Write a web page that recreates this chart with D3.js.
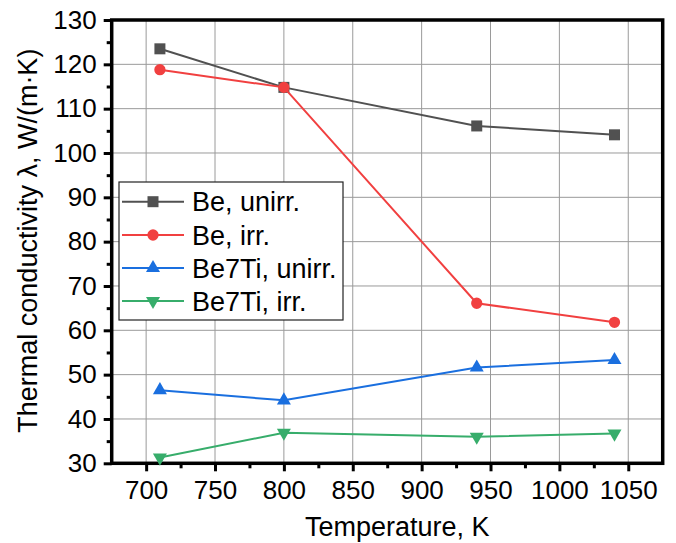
<!DOCTYPE html>
<html>
<head>
<meta charset="utf-8">
<script src="https://cdn.jsdelivr.net/npm/d3@7"></script>
<style>
  html, body { margin: 0; padding: 0; background: #fff; }
  svg { display: block; font-family: "Liberation Sans", Arial, sans-serif; }
</style>
</head>
<body>
<svg id="chart" width="676" height="543"></svg>
<script>
// ---- data ----
const temps = [710, 800, 940, 1040];
const beUnirr = [123.5, 114.8, 106.1, 104.1];
const beIrr = [118.8, 114.8, 66.1, 61.8];
const be7tiUnirr = [46.5, 44.2, 51.6, 53.3];
const be7tiIrr = [31.3, 36.9, 36.0, 36.7];
const seriesNames = ["Be, unirr.", "Be, irr.", "Be7Ti, unirr.", "Be7Ti, irr."];
const xTicks = [700, 750, 800, 850, 900, 950, 1000, 1050];
const yTicks = [30, 40, 50, 60, 70, 80, 90, 100, 110, 120, 130];
const xTitle = "Temperature, K";
const yTitle = "Thermal conductivity λ, W/(m·K)";

// ---- layout ----
const L = 111.7, R = 662.7, T = 20, B = 463.3;
const svg = d3.select("#chart");
const x = d3.scaleLinear().domain([675, 1075]).range([L, R]);
const y = d3.scaleLinear().domain([30, 130]).range([B, T]);

const colors = ["#515151", "#F14040", "#1A6FDF", "#37AD6B"];
const symbols = [
  {type: d3.symbolSquare, size: 121, rot: 0},
  {type: d3.symbolCircle, size: 100, rot: 0},
  {type: d3.symbolTriangle, size: 85, rot: 0},
  {type: d3.symbolTriangle, size: 85, rot: 180}
];
const series = [beUnirr, beIrr, be7tiUnirr, be7tiIrr];

// grid
const grid = svg.append("g");
grid.selectAll("line.gx").data(xTicks).join("line")
  .attr("x1", d => x(d)).attr("x2", d => x(d)).attr("y1", T).attr("y2", B)
  .attr("stroke", "#9a9a9a").attr("stroke-width", 1);
grid.selectAll("line.gy").data(yTicks).join("line")
  .attr("x1", L).attr("x2", R).attr("y1", d => y(d)).attr("y2", d => y(d))
  .attr("stroke", "#9a9a9a").attr("stroke-width", 1);

// axes
const xMinor = d3.range(725, 1075, 50);
const yMinor = d3.range(35, 130, 10);
const xAxis = svg.append("g").attr("transform", `translate(0,${B})`)
  .call(d3.axisBottom(x).tickValues(xTicks).tickSize(8).tickPadding(9).tickFormat(d3.format("d")));
const xAxisMinor = svg.append("g").attr("transform", `translate(0,${B})`)
  .call(d3.axisBottom(x).tickValues(xMinor).tickSize(5).tickFormat(""));
const yAxis = svg.append("g").attr("transform", `translate(${L},0)`)
  .call(d3.axisLeft(y).tickValues(yTicks).tickSize(8).tickPadding(7).tickFormat(d3.format("d")));
const yAxisMinor = svg.append("g").attr("transform", `translate(${L},0)`)
  .call(d3.axisLeft(y).tickValues(yMinor).tickSize(5).tickFormat(""));
[xAxis, xAxisMinor, yAxis, yAxisMinor].forEach(g => {
  g.select(".domain").remove();
  g.selectAll(".tick line").attr("stroke", "#000").attr("stroke-width", 3);
  g.selectAll(".tick text").attr("fill", "#000").attr("font-size", 26)
    .attr("font-family", "'Liberation Sans', Arial, sans-serif");
});

// frame
svg.append("rect").attr("x", L).attr("y", T).attr("width", R - L).attr("height", B - T)
  .attr("fill", "none").attr("stroke", "#000").attr("stroke-width", 3.5);

// series
const line = d3.line().x((d, i) => x(temps[i])).y(d => y(d));
series.forEach((vals, si) => {
  const g = svg.append("g");
  g.append("path").datum(vals).attr("d", line)
    .attr("fill", "none").attr("stroke", colors[si]).attr("stroke-width", 2);
  g.selectAll("path.m").data(vals).join("path")
    .attr("d", d3.symbol().type(symbols[si].type).size(symbols[si].size))
    .attr("transform", (d, i) => `translate(${x(temps[i])},${y(d)}) rotate(${symbols[si].rot})`)
    .attr("fill", colors[si]);
});

// legend
const lg = svg.append("g");
lg.append("rect").attr("x", 119).attr("y", 182).attr("width", 224).attr("height", 138)
  .attr("fill", "#fff").attr("stroke", "#222").attr("stroke-width", 1.2);
const rowY = [201.7, 235, 268, 301];
seriesNames.forEach((name, si) => {
  lg.append("line").attr("x1", 122).attr("x2", 184).attr("y1", rowY[si]).attr("y2", rowY[si])
    .attr("stroke", colors[si]).attr("stroke-width", 2);
  lg.append("path").attr("d", d3.symbol().type(symbols[si].type).size(symbols[si].size))
    .attr("transform", `translate(153,${rowY[si]}) rotate(${symbols[si].rot})`)
    .attr("fill", colors[si]);
  lg.append("text").attr("x", 192).attr("y", rowY[si] + 9.5).attr("font-size", 27)
    .attr("fill", "#000").text(name);
});

// titles
svg.append("text").attr("x", (L + R) / 2 + 10).attr("y", 536).attr("text-anchor", "middle")
  .attr("font-size", 27).attr("fill", "#000").text(xTitle);
svg.append("text").attr("transform", `translate(37,${(T + B) / 2 - 1}) rotate(-90)`)
  .attr("text-anchor", "middle").attr("font-size", 27).attr("fill", "#000").text(yTitle);
</script>
</body>
</html>
